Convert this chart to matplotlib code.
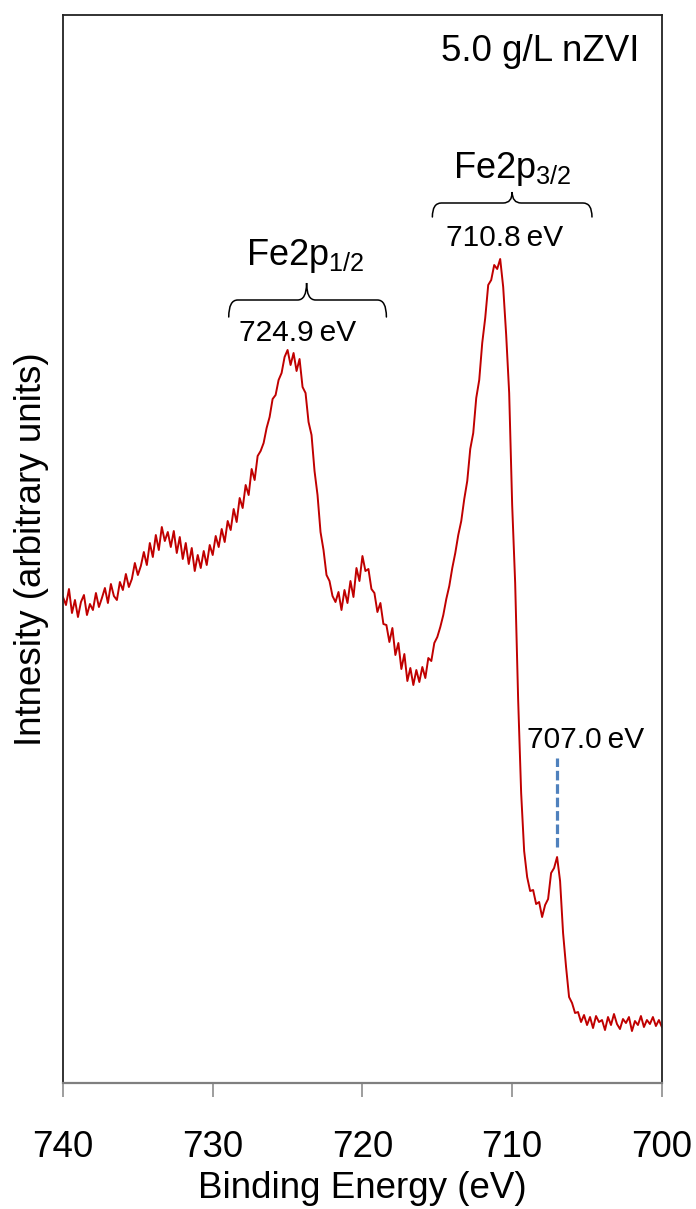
import numpy as np
import matplotlib.pyplot as plt
from matplotlib.path import Path
from matplotlib.patches import PathPatch

plt.rcParams['font.family'] = ['Liberation Sans', 'DejaVu Sans']

# Fe 2p spectrum, binding energy 740 -> 700 eV in 0.2 eV steps
energia = np.round(np.linspace(740, 700, 201), 1)
intensidad = np.array([
    486, 478, 494, 470, 483, 466, 481, 488, 468, 479,
    473, 490, 476, 485, 495, 480, 499, 487, 483, 501,
    493, 509, 496, 504, 520, 508, 517, 531, 518, 540,
    526, 548, 533, 556, 542, 551, 536, 552, 530, 546,
    524, 540, 519, 535, 512, 528, 515, 532, 518, 538,
    528, 547, 536, 554, 541, 562, 553, 574, 561, 585,
    575, 598, 588, 614, 603, 627, 632, 640, 655, 666,
    684, 688, 703, 710, 726, 733, 718, 730, 712, 724,
    696, 690, 661, 648, 612, 588, 551, 533, 508, 502,
    487, 481, 491, 473, 493, 480, 502, 486, 515, 502,
    527, 512, 514, 494, 490, 471, 480, 459, 458, 441,
    455, 428, 440, 414, 429, 402, 415, 398, 413, 401,
    416, 405, 425, 422, 440, 446, 456, 468, 484, 497,
    515, 530, 548, 562, 584, 602, 634, 650, 685, 703,
    740, 765, 798, 803, 818, 814, 824, 796, 748, 690,
    578, 500, 383, 290, 232, 206, 192, 193, 179, 181,
    166, 178, 184, 210, 215, 226, 202, 150, 116, 86,
    80, 70, 71, 61, 68, 58, 66, 55, 67, 61,
    63, 53, 66, 58, 69, 59, 54, 64, 60, 66,
    52, 62, 58, 67, 56, 63, 59, 66, 57, 63,
    56,
])

# picos marcados
pico_12, pico_32, pico_fe0 = 724.9, 710.8, 707.0


def llave(ax, x0, x1, xt, y_fin, y_med, y_tip, r=0.6):
    # llave horizontal con la punta hacia arriba en xt
    verts = [
        (x0, y_fin), (x0, y_med), (x0 - r, y_med),
        (xt + r, y_med), (xt, y_med), (xt, y_tip),
        (xt, y_med), (xt - r, y_med),
        (x1 + r, y_med), (x1, y_med), (x1, y_fin),
    ]
    codes = [Path.MOVETO, Path.CURVE3, Path.CURVE3,
             Path.LINETO, Path.CURVE3, Path.CURVE3,
             Path.CURVE3, Path.CURVE3,
             Path.LINETO, Path.CURVE3, Path.CURVE3]
    ax.add_patch(PathPatch(Path(verts, codes), fill=False, lw=1.1,
                           edgecolor='black', capstyle='round'))


fig = plt.figure(figsize=(6.96, 12.09), dpi=100)
ax = fig.add_axes([0.0905, 0.1042, 0.8605, 0.8834])

ax.plot(energia, intensidad, '-', color='#C00000', lw=1.4)

ax.set_xlim(740, 700)
ax.set_ylim(0, 1068)
ax.set_xticks([740, 730, 720, 710, 700])
ax.set_yticks([])
ax.tick_params(axis='x', direction='out', length=10, width=1.2,
               color='#8c8c8c', labelsize=26.5, pad=24)
for lado in ['left', 'right', 'top']:
    ax.spines[lado].set_color('#222222')
    ax.spines[lado].set_linewidth(1.3)
ax.spines['bottom'].set_color('#7f7f7f')
ax.spines['bottom'].set_linewidth(1.6)

ax.set_xlabel('Binding Energy (eV)', fontsize=26.5, labelpad=4)
ax.set_ylabel('Intnesity (arbitrary units)', fontsize=26.5, labelpad=10)

# etiquetas
ax.text(701.5, 1031, '5.0 g/L nZVI', fontsize=26.5, ha='right', va='center')

llave(ax, 728.93, 718.4, 723.73, 766, 783, 800)
ax.text(723.8, 818, r'Fe2p$_{\mathregular{1/2}}$', fontsize=26,
        ha='center', va='baseline')
ax.text(724.33, 750, f'{pico_12}\u2009eV', fontsize=21.5, ha='center', va='center')

llave(ax, 715.33, 704.67, 710.0, 866, 880, 891)
ax.text(710.0, 905, r'Fe2p$_{\mathregular{3/2}}$', fontsize=26,
        ha='center', va='baseline')
ax.text(710.5, 845, f'{pico_32}\u2009eV', fontsize=21.5, ha='center', va='center')

ax.plot([pico_fe0, pico_fe0], [236, 325], '--', color='#4F81BD', lw=2.3,
        dashes=(3, 1.2))
ax.text(705.07, 343, f'{pico_fe0}\u2009eV', fontsize=21.5, ha='center', va='center')

plt.savefig('out.png', dpi=100)
